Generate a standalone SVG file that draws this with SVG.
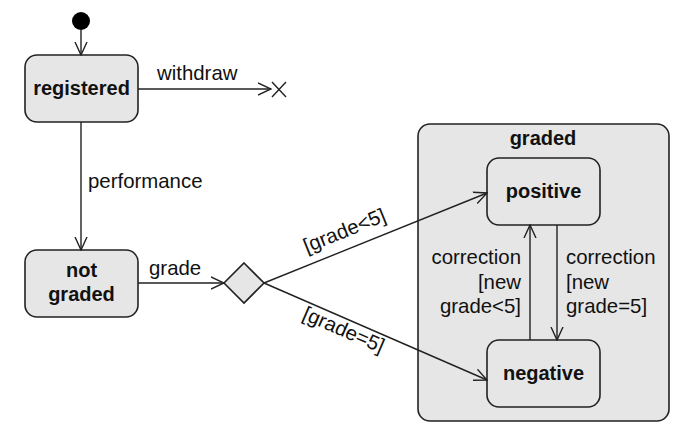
<svg xmlns="http://www.w3.org/2000/svg" width="687" height="442" viewBox="0 0 687 442">
<defs>
<style>
.st{fill:#e6e6e6;stroke:#222;stroke-width:1.6}
.b{font-family:"Liberation Sans",Arial,sans-serif;font-weight:bold;font-size:20px;fill:#111;text-anchor:middle}
.t{font-family:"Liberation Sans",Arial,sans-serif;font-size:20.4px;fill:#111}
.c{fill:none;stroke:#222;stroke-width:1.4}
</style>
<marker id="ah" viewBox="0 0 14 14" refX="13" refY="7" markerWidth="14" markerHeight="14" markerUnits="userSpaceOnUse" orient="auto">
<path d="M0,1 L13,7 L0,13" fill="none" stroke="#222" stroke-width="1.4"/>
</marker>
</defs>
<rect width="687" height="442" fill="#fff"/>
<g id="initial"><circle cx="81" cy="21" r="9" fill="#000"/></g>
<g id="registered"><rect class="st" x="25" y="55" width="113" height="67" rx="12"/><text class="b" x="81.5" y="95">registered</text></g>
<g id="final"><path d="M272,82 L286,97 M286,82 L272,97" stroke="#222" stroke-width="1.4" fill="none"/></g>
<g id="notgraded"><rect class="st" x="25" y="250" width="113" height="67" rx="12"/><text class="b" x="81.5" y="277">not</text><text class="b" x="81.5" y="301">graded</text></g>
<g id="choice"><path class="st" d="M244,263 L264,283 L244,303 L224,283 Z"/></g>
<g id="graded"><rect class="st" x="418" y="124" width="251" height="297" rx="12"/><text class="b" x="543" y="145">graded</text>
<g id="positive"><rect class="st" x="487" y="158" width="113" height="67" rx="12"/><text class="b" x="543.5" y="198">positive</text></g>
<g id="negative"><rect class="st" x="487" y="340" width="113" height="67" rx="12"/><text class="b" x="543.5" y="380">negative</text></g>
</g>
<g id="connectors">
<line class="c" x1="81" y1="30" x2="81" y2="55" marker-end="url(#ah)"/>
<line class="c" x1="138" y1="89" x2="271" y2="89" marker-end="url(#ah)"/>
<text class="t" x="157" y="80">withdraw</text>
<line class="c" x1="81" y1="122" x2="81" y2="250" marker-end="url(#ah)"/>
<text class="t" x="88" y="188">performance</text>
<line class="c" x1="138" y1="283" x2="224" y2="283" marker-end="url(#ah)"/>
<text class="t" x="149" y="275">grade</text>
<line class="c" x1="264" y1="283" x2="487" y2="193" marker-end="url(#ah)"/>
<text class="t" x="0" y="0" text-anchor="middle" transform="translate(347,237) rotate(-22)">[grade&lt;5]</text>
<line class="c" x1="264" y1="283" x2="487" y2="380" marker-end="url(#ah)"/>
<text class="t" x="0" y="0" text-anchor="middle" transform="translate(341,336) rotate(23.5)">[grade=5]</text>
<line class="c" x1="530" y1="340" x2="530" y2="225" marker-end="url(#ah)"/>
<line class="c" x1="557" y1="225" x2="557" y2="340" marker-end="url(#ah)"/>
<g class="t" text-anchor="end"><text x="521" y="264">correction</text><text x="521" y="289">[new</text><text x="521" y="313">grade&lt;5]</text></g>
<g class="t"><text x="566" y="264">correction</text><text x="566" y="289">[new</text><text x="566" y="313">grade=5]</text></g>
</g>
</svg>
